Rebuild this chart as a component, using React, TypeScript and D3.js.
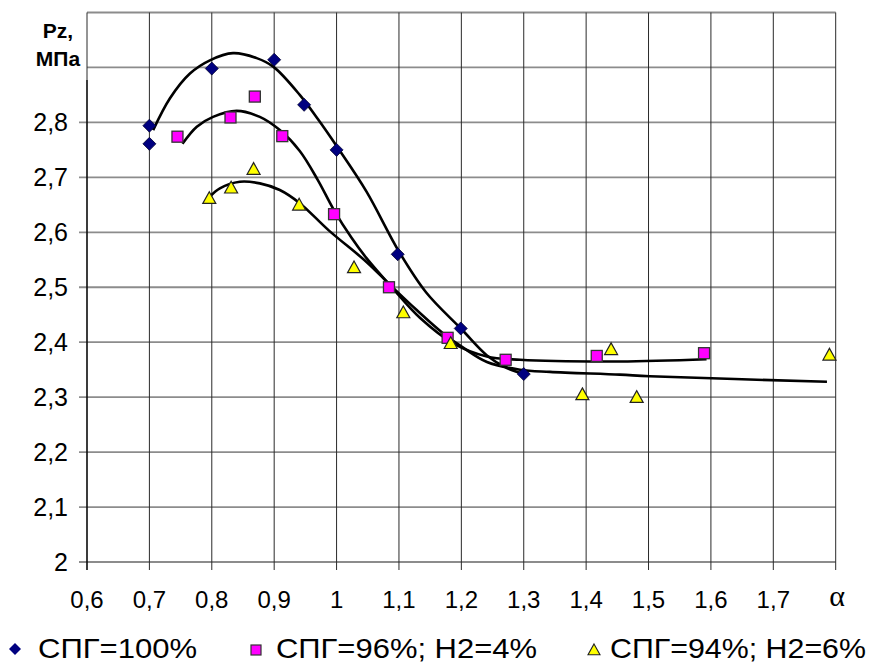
import React from "react";
import * as d3 from "d3";

// Tick values and their labels (comma as decimal separator)
const xTicks = [0.6, 0.7, 0.8, 0.9, 1.0, 1.1, 1.2, 1.3, 1.4, 1.5, 1.6, 1.7, 1.8];
const xTickLabels = ["0,6", "0,7", "0,8", "0,9", "1", "1,1", "1,2", "1,3", "1,4", "1,5", "1,6", "1,7"];
const yGrid = [2.0, 2.1, 2.2, 2.3, 2.4, 2.5, 2.6, 2.7, 2.8, 2.9, 3.0];
const yTicks = [2.0, 2.1, 2.2, 2.3, 2.4, 2.5, 2.6, 2.7, 2.8];
const yTickLabels = ["2", "2,1", "2,2", "2,3", "2,4", "2,5", "2,6", "2,7", "2,8"];

// Measured points: [alpha, Pz MPa]
const spg100: [number, number][] = [
  [0.7, 2.794], [0.7, 2.761], [0.8, 2.898], [0.9, 2.914], [0.948, 2.832],
  [1.0, 2.75], [1.098, 2.56], [1.199, 2.425], [1.3, 2.342],
];
const spg96: [number, number][] = [
  [0.745, 2.774], [0.83, 2.809], [0.869, 2.847], [0.913, 2.775], [0.996, 2.633],
  [1.084, 2.5], [1.178, 2.408], [1.271, 2.368], [1.417, 2.375], [1.589, 2.38],
];
const spg94: [number, number][] = [
  [0.796, 2.662], [0.831, 2.681], [0.867, 2.715], [0.94, 2.65], [1.028, 2.536],
  [1.107, 2.454], [1.183, 2.398], [1.394, 2.305], [1.44, 2.387], [1.481, 2.3],
  [1.79, 2.377],
];

// Trend curves for each series
const trend100: [number, number][] = [
  [0.706, 2.786], [0.733, 2.844], [0.765, 2.889], [0.797, 2.913], [0.834, 2.926],
  [0.872, 2.917], [0.899, 2.901], [0.941, 2.85], [0.97, 2.806], [1.0, 2.757],
  [1.048, 2.674], [1.1, 2.565], [1.144, 2.49], [1.2, 2.424], [1.241, 2.376],
  [1.273, 2.353], [1.3, 2.342],
];
const trend96: [number, number][] = [
  [0.753, 2.761], [0.776, 2.792], [0.802, 2.81], [0.84, 2.821], [0.877, 2.81],
  [0.909, 2.786], [0.941, 2.748], [0.97, 2.695], [0.996, 2.64], [1.024, 2.59],
  [1.048, 2.553], [1.09, 2.498], [1.134, 2.444], [1.187, 2.398], [1.241, 2.374],
  [1.294, 2.368], [1.454, 2.365], [1.593, 2.369],
];
const trend94: [number, number][] = [
  [0.797, 2.665], [0.813, 2.68], [0.845, 2.692], [0.877, 2.689], [0.909, 2.677],
  [0.941, 2.653], [0.987, 2.604], [1.048, 2.546], [1.086, 2.504], [1.128, 2.459],
  [1.171, 2.416], [1.203, 2.39], [1.241, 2.364], [1.294, 2.35], [1.342, 2.346],
  [1.454, 2.341], [1.502, 2.338], [1.786, 2.328],
];

const legendLabels = ["СПГ=100%", "СПГ=96%; Н2=4%", "СПГ=94%; Н2=6%"];

const NAVY = "#000080";
const MAGENTA = "#ff00ff";
const YELLOW = "#ffff00";

const x = d3.scaleLinear().domain([0.6, 1.8]).range([87, 835.7]);
const y = d3.scaleLinear().domain([2.0, 3.0]).range([562, 12.5]);

const line = d3
  .line<[number, number]>()
  .x((d) => x(d[0]))
  .y((d) => y(d[1]))
  .curve(d3.curveCatmullRom.alpha(0.5));

const diamond = (cx: number, cy: number, r: number) =>
  `M${cx},${cy - r}L${cx + r},${cy}L${cx},${cy + r}L${cx - r},${cy}Z`;
const triangle = (cx: number, cy: number, r: number) =>
  `M${cx},${cy - r}L${cx + r},${cy + r * 0.8}L${cx - r},${cy + r * 0.8}Z`;

const FONT = "'Liberation Sans', Arial, sans-serif";

export default function App() {
  const x0 = x(0.6);
  const x1 = x(1.8);
  const yBottom = y(2.0);
  return (
    <svg
      width={874}
      height={664}
      style={{ position: "absolute", left: 0, top: 0, background: "#fff" }}
      fontFamily={FONT}
    >
      <rect width={874} height={664} fill="#fff" />
      {/* horizontal grid */}
      {yGrid.map((v) => (
        <line
          key={"h" + v}
          x1={v <= 2.8 ? x0 - 8 : x0}
          x2={x1}
          y1={y(v)}
          y2={y(v)}
          stroke="#8c8c8c"
          strokeWidth={1.8}
        />
      ))}
      {/* vertical grid with tick marks below the axis */}
      {xTicks.map((v) => (
        <line
          key={"v" + v}
          x1={x(v)}
          x2={x(v)}
          y1={y(3.0)}
          y2={yBottom + 8}
          stroke="#2a2a2a"
          strokeWidth={1}
        />
      ))}
      {/* left axis */}
      <line x1={x0} x2={x0} y1={80} y2={yBottom + 8} stroke="#000" strokeWidth={1.2} />

      {/* y tick labels */}
      {yTicks.map((v, i) => (
        <text
          key={"yl" + v}
          x={68}
          y={y(v) + 9}
          textAnchor="end"
          fontSize={25}
          fill="#000"
        >
          {yTickLabels[i]}
        </text>
      ))}
      {/* x tick labels */}
      {xTickLabels.map((t, i) => (
        <text key={"xl" + t} x={x(xTicks[i])} y={608} textAnchor="middle" fontSize={24} fill="#000">
          {t}
        </text>
      ))}
      <text x={837} y={606} textAnchor="middle" fontSize={30} fontFamily="'Liberation Serif', serif">
        α
      </text>

      {/* axis title */}
      <text x={58} y={38} textAnchor="middle" fontSize={21} fontWeight="bold">
        Pz,
      </text>
      <text x={58} y={66} textAnchor="middle" fontSize={21} fontWeight="bold">
        МПа
      </text>

      {/* trend curves */}
      {[trend100, trend96, trend94].map((t, i) => (
        <path key={"t" + i} d={line(t) || ""} fill="none" stroke="#000" strokeWidth={2.6} />
      ))}

      {/* markers */}
      {spg100.map((d, i) => (
        <path key={"a" + i} d={diamond(x(d[0]), y(d[1]), 6.5)} fill={NAVY} stroke="#000030" strokeWidth={0.8} />
      ))}
      {spg96.map((d, i) => (
        <rect
          key={"b" + i}
          x={x(d[0]) - 5.5}
          y={y(d[1]) - 5.5}
          width={11}
          height={11}
          fill={MAGENTA}
          stroke="#333"
          strokeWidth={1.3}
        />
      ))}
      {spg94.map((d, i) => (
        <path key={"c" + i} d={triangle(x(d[0]), y(d[1]), 6.5)} fill={YELLOW} stroke="#222" strokeWidth={1.2} />
      ))}

      {/* legend */}
      <path d={diamond(15, 649, 6)} fill={NAVY} />
      <text x={38} y={658} fontSize={28} textLength={159} lengthAdjust="spacingAndGlyphs">
        {legendLabels[0]}
      </text>
      <rect x={251} y={645} width={10} height={10} fill={MAGENTA} stroke="#333" strokeWidth={1.2} />
      <text x={276} y={658} fontSize={28} textLength={261} lengthAdjust="spacingAndGlyphs">
        {legendLabels[1]}
      </text>
      <path d={triangle(594, 650, 6)} fill={YELLOW} stroke="#222" strokeWidth={1.1} />
      <text x={610} y={658} fontSize={28} textLength={256} lengthAdjust="spacingAndGlyphs">
        {legendLabels[2]}
      </text>
    </svg>
  );
}
